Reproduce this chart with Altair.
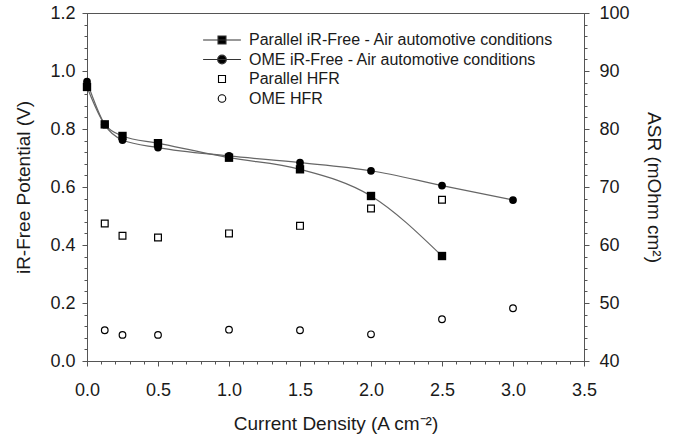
import altair as alt
import pandas as pd

# ---- data ----
X_IR = [0.0, 0.125, 0.25, 0.5, 1.0, 1.5, 2.0, 2.5, 3.0]
PAR_IR = [0.945, 0.816, 0.776, 0.751, 0.701, 0.661, 0.569, 0.362]
OME_IR = [0.963, 0.815, 0.762, 0.736, 0.707, 0.684, 0.656, 0.605, 0.555]

X_HFR = [0.125, 0.25, 0.5, 1.0, 1.5, 2.0, 2.5, 3.0]
PAR_HFR = [63.7, 61.6, 61.3, 62.0, 63.3, 66.3, 67.8]
OME_HFR = [45.3, 44.5, 44.5, 45.4, 45.3, 44.6, 47.2, 49.1]

SERIES = [
    "Parallel iR-Free - Air automotive conditions",
    "OME iR-Free - Air automotive conditions",
    "Parallel HFR",
    "OME HFR",
]

X_TICKS = [0.0, 0.5, 1.0, 1.5, 2.0, 2.5, 3.0, 3.5]
X_MINOR = [round(i * 0.1, 2) for i in range(36)]
YL_TICKS = [0.0, 0.2, 0.4, 0.6, 0.8, 1.0, 1.2]
YL_MINOR = [round(i * 0.04, 2) for i in range(31)]
YR_TICKS = [40, 50, 60, 70, 80, 90, 100]
YR_MINOR = list(range(40, 101, 2))

FONT = "Liberation Sans"
AX = "#555555"
TXT = "#1a1a1a"

ir_df = pd.concat(
    [
        pd.DataFrame({"x": X_IR[: len(PAR_IR)], "v": PAR_IR, "series": SERIES[0]}),
        pd.DataFrame({"x": X_IR[: len(OME_IR)], "v": OME_IR, "series": SERIES[1]}),
    ],
    ignore_index=True,
)
hfr_df = pd.concat(
    [
        pd.DataFrame({"x": X_HFR[: len(PAR_HFR)], "v": PAR_HFR, "series": SERIES[2]}),
        pd.DataFrame({"x": X_HFR[: len(OME_HFR)], "v": OME_HFR, "series": SERIES[3]}),
    ],
    ignore_index=True,
)
all_df = pd.concat([ir_df, hfr_df], ignore_index=True)

xs = alt.Scale(domain=[0, 3.5], nice=False, zero=False)
yl = alt.Scale(domain=[0, 1.2], nice=False, zero=False)
yr = alt.Scale(domain=[40, 100], nice=False, zero=False)

common_axis = dict(
    grid=False, domainColor=AX, tickColor=AX, labelColor=TXT, titleColor=TXT,
    labelFont=FONT, titleFont=FONT, labelFontSize=18, titleFontSize=19,
    titleFontWeight="normal", domainWidth=1, tickWidth=1, labelFlush=False,
    labelOverlap=False,
)
minor_axis = dict(
    grid=False, domain=False, labels=False, tickColor=AX, tickWidth=1, tickSize=3, title=None,
)

x_major = alt.Axis(orient="bottom", values=X_TICKS, format=".1f", tickSize=5,
                   labelPadding=15, titlePadding=15,
                   title="Current Density (A cm⁻²)", **common_axis)
x_minor = alt.Axis(orient="bottom", values=X_MINOR, **minor_axis)
yl_major = alt.Axis(orient="left", values=YL_TICKS, format=".1f", tickSize=5,
                    labelPadding=7, titlePadding=16,
                    title="iR-Free Potential (V)", **common_axis)
yl_minor = alt.Axis(orient="left", values=YL_MINOR, **minor_axis)
yr_major = alt.Axis(orient="right", values=YR_TICKS, format="d", tickSize=5,
                    labelPadding=10, titlePadding=14,
                    title="ASR (mOhm cm²)", **common_axis)
yr_minor = alt.Axis(orient="right", values=YR_MINOR, **minor_axis)

lines = alt.Chart(ir_df).mark_line(
    color="#666666", strokeWidth=1.2, interpolate="monotone"
).encode(
    x=alt.X("x:Q", scale=xs, axis=x_major),
    y=alt.Y("v:Q", scale=yl, axis=yl_major),
    detail="series:N",
)

par_pts = alt.Chart(ir_df).transform_filter(
    alt.datum.series == SERIES[0]
).mark_point(shape="square", filled=True, color="black", size=70, opacity=1).encode(
    x=alt.X("x:Q", scale=xs, axis=None),
    y=alt.Y("v:Q", scale=yl, axis=yl_minor),
)

ome_pts = alt.Chart(ir_df).transform_filter(
    alt.datum.series == SERIES[1]
).mark_point(shape="circle", filled=True, color="black", size=60, opacity=1).encode(
    x=alt.X("x:Q", scale=xs, axis=x_minor),
    y=alt.Y("v:Q", scale=yl, axis=None),
)

par_hfr = alt.Chart(hfr_df).transform_filter(
    alt.datum.series == SERIES[2]
).mark_point(shape="square", filled=False, color="black", size=46, strokeWidth=1.2, opacity=1).encode(
    x=alt.X("x:Q", scale=xs, axis=None),
    y=alt.Y("v:Q", scale=yr, axis=yr_major),
)

ome_hfr = alt.Chart(hfr_df).transform_filter(
    alt.datum.series == SERIES[3]
).mark_point(shape="circle", filled=False, color="black", size=44, strokeWidth=1.2, opacity=1).encode(
    x=alt.X("x:Q", scale=xs, axis=None),
    y=alt.Y("v:Q", scale=yr, axis=yr_minor),
)

# legend carrier: real data, drawn off-view (clipped) so only its legend shows
SYM = 196  # 14 px box -> 7 px per path unit
SHAPES = [
    "M-2.7,0H2.7M-0.57,-0.57H0.57V0.57H-0.57Z",
    "M-2.7,0H2.7M0.62,0A0.62,0.62,0,1,1,-0.62,0A0.62,0.62,0,1,1,0.62,0Z",
    "M-0.5,-0.5H0.5V0.5H-0.5Z",
    "M0.54,0A0.54,0.54,0,1,1,-0.54,0A0.54,0.54,0,1,1,0.54,0Z",
]
leg = alt.Legend(
    title=None, orient="none", legendX=127, legendY=19,
    labelFont=FONT, labelFontSize=16, labelColor=TXT, labelLimit=500,
    symbolSize=SYM, symbolStrokeWidth=1.1, labelOffset=19, rowPadding=3.5,
)
legend_layer = alt.Chart(all_df).mark_point(
    clip=True, size=SYM, strokeWidth=1.1, opacity=1, filled=True
).encode(
    x=alt.X("x:Q", scale=xs, axis=None),
    y=alt.Y("v:Q", scale=alt.Scale(domain=[-20, -19], nice=False, zero=False), axis=None),
    shape=alt.Shape("series:N", scale=alt.Scale(domain=SERIES, range=SHAPES), legend=leg),
    fill=alt.Fill("series:N", scale=alt.Scale(domain=SERIES, range=["black", "black", "white", "white"]), legend=leg),
    stroke=alt.Stroke("series:N", scale=alt.Scale(domain=SERIES, range=["#333333", "#333333", "black", "black"]), legend=leg),
)

chart = alt.layer(
    lines, par_pts, ome_pts, par_hfr, ome_hfr, legend_layer
).resolve_scale(
    y="independent"
).resolve_axis(
    x="independent", y="independent"
).properties(
    width=497, height=348,
    padding={"left": 87, "top": 13, "right": 93, "bottom": 75},
    autosize=alt.AutoSizeParams(type="none"),
    background="white",
).configure_view(
    stroke=AX, strokeWidth=1
)

chart.save("out.html", embed_options={"renderer": "svg", "actions": False})
